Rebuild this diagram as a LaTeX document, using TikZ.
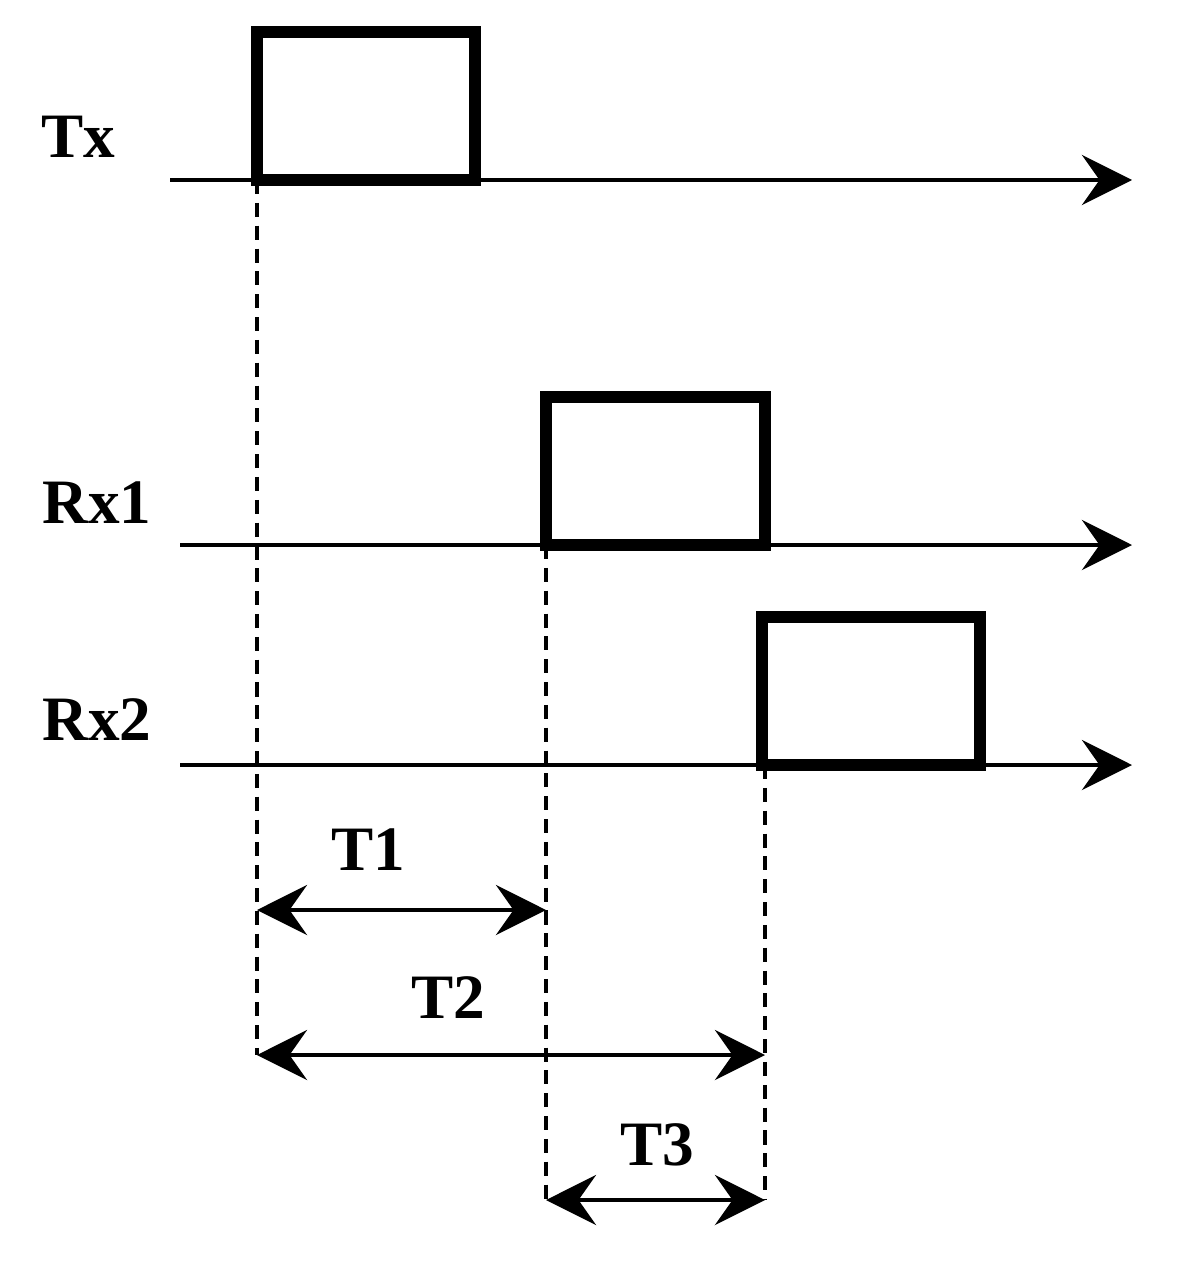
\documentclass[tikz,border=0pt]{standalone}
\usepackage{fontspec}
\setmainfont{Liberation Serif}
\usetikzlibrary{arrows.meta}
\begin{document}
\begin{tikzpicture}[x=0.02cm,y=-0.02cm,
  axis/.style={line width=2.8pt,-{Stealth[length=1cm,width=1cm,inset=0.35cm]}},
  pulse/.style={line width=6.8pt},
  guide/.style={line width=2.8pt,dash pattern=on 8pt off 5pt},
  span/.style={line width=2.8pt,{Stealth[length=1cm,width=1cm,inset=0.35cm]}-{Stealth[length=1cm,width=1cm,inset=0.35cm]}},
  lab/.style={font=\bfseries\fontsize{36}{40}\selectfont}]
\useasboundingbox (0,0) rectangle (1190,1277);
% coordinates
\coordinate (txs) at (170,180); \coordinate (txe) at (1132,180);
\coordinate (r1s) at (180,545); \coordinate (r1e) at (1132,545);
\coordinate (r2s) at (180,765); \coordinate (r2e) at (1132,765);
\coordinate (a0) at (257,180); \coordinate (a1) at (257,1055);
\coordinate (b0) at (546,545); \coordinate (b1) at (546,1200);
\coordinate (c0) at (765,765); \coordinate (c1) at (765,1200);
\coordinate (t1a) at (257,910); \coordinate (t1b) at (546,910);
\coordinate (t2a) at (257,1055); \coordinate (t2b) at (765,1055);
\coordinate (t3a) at (546,1200); \coordinate (t3b) at (765,1200);
% axes
\draw[axis] (txs) -- (txe);
\draw[axis] (r1s) -- (r1e);
\draw[axis] (r2s) -- (r2e);
% pulses
\draw[pulse] (257,180) -- (257,32) -- (475,32) -- (475,180) -- cycle;
\draw[pulse] (546,545) -- (546,397) -- (765,397) -- (765,545) -- cycle;
\draw[pulse] (762,765) -- (762,617) -- (980,617) -- (980,765) -- cycle;
% guides
\draw[guide] (a0) -- (a1);
\draw[guide] (b0) -- (b1);
\draw[guide] (c0) -- (c1);
% spans
\draw[span] (t1a) -- (t1b);
\draw[span] (t2a) -- (t2b);
\draw[span] (t3a) -- (t3b);
% labels
\node[lab] (ltx) at (78,137) {Tx};
\node[lab] (lr1) at (97,503) {Rx1};
\node[lab] (lr2) at (97,720) {Rx2};
\node[lab] (lt1) at (368,850) {T1};
\node[lab] (lt2) at (448,998) {T2};
\node[lab] (lt3) at (657,1145) {T3};
\end{tikzpicture}
\end{document}
